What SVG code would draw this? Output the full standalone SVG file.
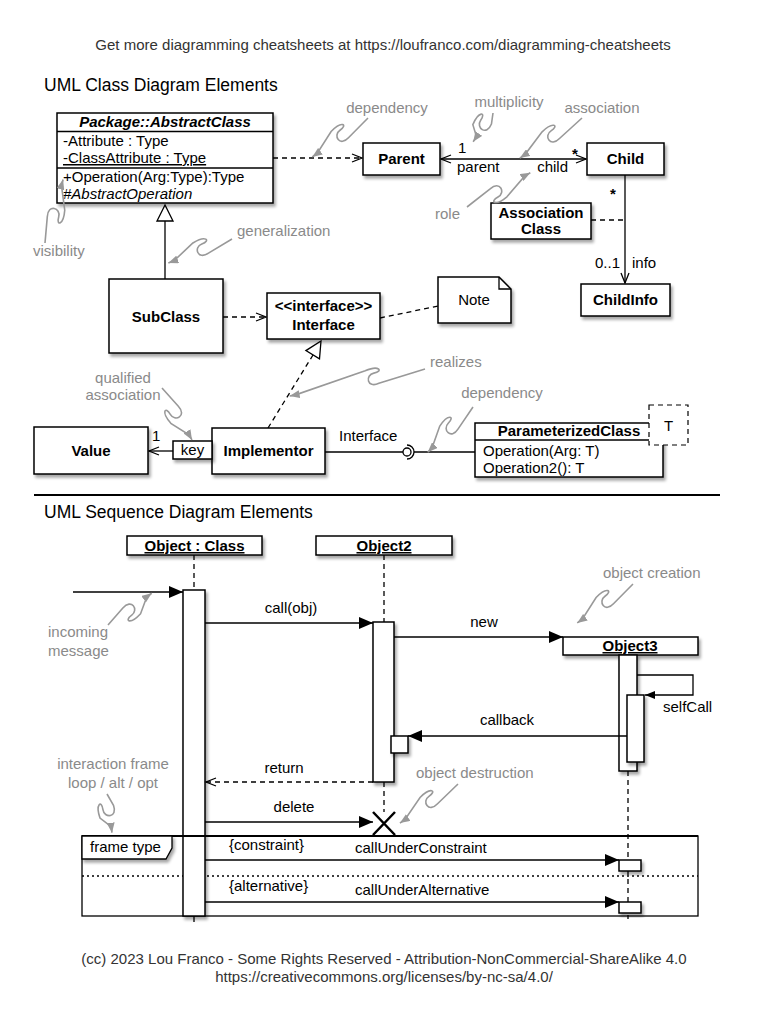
<svg xmlns="http://www.w3.org/2000/svg" width="768" height="1024" viewBox="0 0 768 1024">
<style>
text{font-family:"Liberation Sans",Arial,Helvetica,sans-serif;font-size:15px;fill:#000}
.c{text-anchor:middle}
.e{text-anchor:end}
.b{font-weight:bold}
.g{fill:#8a8a8a}
.h{font-size:17.5px}
.ft{font-size:15px;fill:#333}
.box{fill:#fff;stroke:#000;stroke-width:1.5;filter:url(#sh)}
.ln{fill:none;stroke:#000;stroke-width:1.3}
.dash{stroke-dasharray:5,4}
.ann{fill:none;stroke:#999;stroke-width:1.6;marker-end:url(#ga)}
</style>
<defs>
<filter id="sh" x="-20%" y="-20%" width="150%" height="160%"><feDropShadow dx="2" dy="3" stdDeviation="1.5" flood-color="#000" flood-opacity="0.35"/></filter>
<marker id="oa" viewBox="-1 0 12 10" refX="10" refY="5" markerWidth="12" markerHeight="10" markerUnits="userSpaceOnUse" orient="auto-start-reverse" overflow="visible"><path d="M0,1 L10,5 L0,9" fill="none" stroke="#000" stroke-width="1.3"/></marker>
<marker id="fa" viewBox="0 0 14 12" refX="14" refY="6" markerWidth="14" markerHeight="12" markerUnits="userSpaceOnUse" orient="auto"><path d="M0,0 L14,6 L0,12 Z" fill="#000"/></marker>
<marker id="fs" viewBox="0 0 10 8" refX="10" refY="4" markerWidth="10" markerHeight="8" markerUnits="userSpaceOnUse" orient="auto"><path d="M0,0 L10,4 L0,8 Z" fill="#000"/></marker>
<marker id="ga" viewBox="0 0 10 8" refX="10" refY="4" markerWidth="10" markerHeight="8" markerUnits="userSpaceOnUse" orient="auto"><path d="M0,0 L10,4 L0,8 Z" fill="#999"/></marker>
</defs>
<rect width="768" height="1024" fill="#fff"/>

<text class="c ft" x="383" y="50">Get more diagramming cheatsheets at https://loufranco.com/diagramming-cheatsheets</text>
<text class="h" x="44" y="91">UML Class Diagram Elements</text>

<!-- class diagram connectors -->
<g id="connectors">
<line class="ln dash" x1="273" y1="158" x2="362" y2="158" marker-end="url(#oa)"/>
<line class="ln" x1="441" y1="159" x2="586" y2="159" marker-start="url(#oa)" marker-end="url(#oa)"/>
<line class="ln" x1="625" y1="175" x2="625" y2="283" marker-end="url(#oa)"/>
<line class="ln dash" x1="591" y1="220" x2="625" y2="220"/>
<line class="ln" x1="165" y1="221" x2="165" y2="279"/>
<polygon points="165,205 157,221 173,221" fill="#fff" stroke="#000" stroke-width="1.3"/>
<line class="ln dash" x1="223" y1="317" x2="266" y2="317" marker-end="url(#oa)"/>
<line class="ln dash" x1="380" y1="318" x2="438" y2="306"/>
<line class="ln dash" x1="268" y1="428" x2="313" y2="355"/>
<polygon points="321,341 319.5,358.8 305.9,350.6" fill="#fff" stroke="#000" stroke-width="1.3"/>
<line class="ln" x1="173" y1="451" x2="149" y2="451" marker-end="url(#oa)"/>
<line class="ln" x1="325" y1="452" x2="403" y2="452"/>
<circle cx="407" cy="452" r="4" fill="#fff" stroke="#000" stroke-width="1.3"/>
<path class="ln" d="M407,445 A7,7 0 0 1 407,459"/>
<line class="ln" x1="414" y1="452" x2="475" y2="452"/>
</g>

<g id="abstract-class">
<rect class="box" x="57" y="113" width="216" height="90"/>
<line class="ln" x1="57" y1="131.5" x2="273" y2="131.5" stroke-width="1.5"/>
<line class="ln" x1="57" y1="168" x2="273" y2="168" stroke-width="1.5"/>
<text class="c b" x="165" y="127" font-style="italic">Package::AbstractClass</text>
<text x="63" y="146">-Attribute : Type</text>
<text x="63" y="163" text-decoration="underline">-ClassAttribute : Type</text>
<text x="63" y="182">+Operation(Arg:Type):Type</text>
<text x="63" y="199" font-style="italic">#AbstractOperation</text>
</g>

<g id="parent"><rect class="box" x="363" y="143" width="77" height="32"/><text class="c b" x="401.5" y="164">Parent</text></g>
<g id="child"><rect class="box" x="587" y="143" width="77" height="32"/><text class="c b" x="625.5" y="164">Child</text></g>
<g id="childinfo"><rect class="box" x="581" y="284" width="89" height="32"/><text class="c b" x="625.5" y="305">ChildInfo</text></g>
<g id="association-class"><rect class="box" x="491" y="203" width="100" height="36"/><text class="c b" x="541" y="218">Association</text><text class="c b" x="541" y="234">Class</text></g>

<g id="assoc-labels">
<text x="458" y="153">1</text>
<text x="457" y="172">parent</text>
<text class="e" x="568" y="172">child</text>
<text class="c b" x="575" y="159" font-size="24px">*</text>
<text class="c b" x="613" y="199" font-size="24px">*</text>
<text x="595" y="268">0..1</text>
<text x="632" y="268">info</text>
<text x="339" y="441">Interface</text>
<text x="152" y="441">1</text>
</g>

<g id="subclass"><rect class="box" x="109" y="279" width="114" height="74"/><text class="c b" x="166" y="322">SubClass</text></g>
<g id="interface"><rect class="box" x="267" y="293" width="113" height="46"/><text class="c b" x="323.5" y="311">&lt;&lt;interface&gt;&gt;</text><text class="c b" x="323.5" y="330">Interface</text></g>
<g id="note"><path class="box" d="M438,277 H499 L511,289 V323 H438 Z"/><path class="ln" d="M499,277 V289 H511"/><text class="c" x="474" y="305">Note</text></g>
<g id="implementor"><rect class="box" x="212" y="428" width="113" height="46"/><text class="c b" x="268.5" y="456">Implementor</text></g>
<g id="key"><rect class="box" x="173" y="441" width="39" height="18"/><text class="c" x="192.5" y="455">key</text></g>
<g id="value"><rect class="box" x="34" y="427" width="114" height="47"/><text class="c b" x="91" y="456">Value</text></g>
<g id="parameterized-class">
<rect class="box" x="475" y="423" width="188" height="54"/>
<line class="ln" x1="475" y1="440" x2="663" y2="440" stroke-width="1.5"/>
<text class="c b" x="569" y="436">ParameterizedClass</text>
<text x="483" y="456">Operation(Arg: T)</text>
<text x="483" y="473">Operation2(): T</text>
<rect x="649" y="405" width="39" height="40" fill="#fff" stroke="#000" stroke-width="1.2" stroke-dasharray="5,4"/>
<text class="c" x="668.5" y="431">T</text>
</g>

<g id="annotations-class">
<text class="c g" x="387" y="113">dependency</text>
<path class="ann" transform="translate(368,118) rotate(145.1)" d="M0,0 L27,-5 C40,-8 39,6 30,6 C20,6 23,13 38,10 L62,0 L68,0"/>
<text class="c g" x="509" y="107">multiplicity</text>
<path class="ann" transform="translate(493,113) rotate(124.6)" d="M0,0 L10,-5 C23,-8 22,6 13,6 C3,6 6,13 21,10 L29,0 L35,0"/>
<text class="c g" x="602" y="113">association</text>
<path class="ann" transform="translate(582,118) rotate(147.2)" d="M0,0 L30,-5 C43,-8 42,6 33,6 C23,6 26,13 41,10 L68,0 L74,0"/>
<text class="g" x="435" y="219">role</text>
<path class="ann" transform="translate(467,207) rotate(-28.4)" d="M0,0 L29,-5 C42,-8 41,6 32,6 C22,6 25,13 40,10 L66,0 L72,0"/>
<text class="g" x="33" y="256">visibility</text>
<path class="ann" transform="translate(45,243) rotate(-74.1)" d="M0,0 L26,-5 C39,-8 38,6 29,6 C19,6 22,13 37,10 L60,0 L66,0"/>
<text class="g" x="237" y="236">generalization</text>
<path class="ann" transform="translate(232,239) rotate(159.4)" d="M0,0 L27,-5 C40,-8 39,6 30,6 C20,6 23,13 38,10 L62,0 L68,0"/>
<text class="g" x="430" y="367">realizes</text>
<path class="ann" transform="translate(425,369) rotate(168.7)" d="M0,0 L48,-5 C61,-8 60,6 51,6 C41,6 44,13 59,10 L132,0 L138,0"/>
<text class="c g" x="123" y="383">qualified</text>
<text class="c g" x="123" y="400">association</text>
<path class="ann" transform="translate(162,388) rotate(60)" d="M0,0 L24,-5 C37,-8 36,6 27,6 C17,6 20,13 35,10 L54,0 L60,0"/>
<text class="c g" x="502" y="398">dependency</text>
<path class="ann" transform="translate(473,407) rotate(135)" d="M0,0 L26,-5 C39,-8 38,6 29,6 C19,6 22,13 37,10 L58,0 L64,0"/>
</g>

<line x1="34" y1="495" x2="720" y2="495" stroke="#000" stroke-width="2"/>
<text class="h" x="44" y="518">UML Sequence Diagram Elements</text>

<!-- sequence diagram -->
<g id="frame">
<rect x="82" y="836" width="616" height="80" fill="none" stroke="#000" stroke-width="1.3"/>
<line x1="82" y1="876" x2="698" y2="876" stroke="#000" stroke-width="1.3" stroke-dasharray="2,3"/>
</g>

<g id="lifelines">
<line class="ln dash" x1="194" y1="555" x2="194" y2="590"/>
<line class="ln" x1="194" y1="916" x2="194" y2="922"/>
<line class="ln dash" x1="384" y1="555" x2="384" y2="622"/>
<line class="ln dash" x1="384" y1="782" x2="384" y2="812"/>
<line class="ln dash" x1="628" y1="771" x2="628" y2="919" stroke-width="1.6"/>
</g>

<g id="object-class"><rect class="box" x="127" y="536" width="135" height="19"/><text class="c b" x="194.5" y="551" text-decoration="underline">Object : Class</text></g>
<g id="object2"><rect class="box" x="316" y="536" width="136" height="19"/><text class="c b" x="384" y="551" text-decoration="underline">Object2</text></g>
<g id="activation-object-class"><rect class="box" x="183" y="590" width="22" height="326"/></g>
<line x1="82" y1="836" x2="698" y2="836" stroke="#000" stroke-width="2"/>
<g id="frame-type"><path d="M82,836 H172 V848 L166,859 H82 Z" fill="#fff" stroke="#000" stroke-width="1.3" filter="url(#sh)"/><text x="90" y="852">frame type</text></g>
<g id="activation-object2"><rect class="box" x="373" y="622" width="21" height="160"/></g>
<g id="object3"><rect class="box" x="563" y="637" width="135" height="18"/><text class="c b" x="630" y="651" text-decoration="underline">Object3</text></g>
<g id="activation-object3"><rect class="box" x="619" y="655" width="18" height="116"/></g>
<g id="activation-selfcall"><rect class="box" x="627" y="695" width="17" height="67"/></g>
<g id="activation-callback"><rect class="box" x="391" y="736" width="17" height="17"/></g>
<g id="activation-constraint"><rect class="box" x="619" y="860" width="22" height="11"/></g>
<g id="activation-alternative"><rect class="box" x="619" y="902" width="22" height="11"/></g>

<g id="messages">
<line class="ln" x1="73" y1="592" x2="183" y2="592" marker-end="url(#fa)"/>
<line class="ln" x1="205" y1="623" x2="373" y2="623" marker-end="url(#fa)"/>
<text class="c" x="291" y="613">call(obj)</text>
<line class="ln" x1="394" y1="637" x2="563" y2="637" marker-end="url(#fa)"/>
<text class="c" x="484" y="627">new</text>
<path class="ln" d="M637,675 H693 V695 H645" marker-end="url(#fs)"/>
<text x="663" y="712">selfCall</text>
<line class="ln" x1="627" y1="736" x2="408" y2="736" marker-end="url(#fa)"/>
<text class="c" x="507" y="725">callback</text>
<line class="ln dash" x1="373" y1="782" x2="206" y2="782" marker-end="url(#oa)"/>
<text class="c" x="284" y="773">return</text>
<line class="ln" x1="205" y1="822" x2="373" y2="822" marker-end="url(#fa)"/>
<text class="c" x="294" y="812">delete</text>
<path d="M373,812 L395,835 M395,812 L373,835" stroke="#000" stroke-width="2.5" fill="none"/>
<text x="229" y="850">{constraint}</text>
<line class="ln" x1="205" y1="860" x2="619" y2="860" marker-end="url(#fa)"/>
<text x="355" y="853">callUnderConstraint</text>
<text x="229" y="891">{alternative}</text>
<line class="ln" x1="205" y1="902" x2="619" y2="902" marker-end="url(#fa)"/>
<text x="355" y="895">callUnderAlternative</text>
</g>

<g id="annotations-sequence">
<text class="g" x="48" y="637">incoming</text>
<text class="g" x="48" y="656">message</text>
<path class="ann" transform="translate(108,625) rotate(-36)" d="M0,0 L22,-5 C35,-8 34,6 25,6 C15,6 18,13 33,10 L48,0 L54,0"/>
<text class="g" x="603" y="578">object creation</text>
<path class="ann" transform="translate(633,584) rotate(145.1)" d="M0,0 L27,-5 C40,-8 39,6 30,6 C20,6 23,13 38,10 L62,0 L68,0"/>
<text class="g" x="416" y="778">object destruction</text>
<path class="ann" transform="translate(458,784) rotate(146.1)" d="M0,0 L28,-5 C41,-8 40,6 31,6 C21,6 24,13 39,10 L64,0 L70,0"/>
<text class="c g" x="113" y="769">interaction frame</text>
<text class="c g" x="113" y="788">loop / alt / opt</text>
<path class="ann" transform="translate(107,794) rotate(82.7)" d="M0,0 L12,-5 C25,-8 24,6 15,6 C5,6 8,13 23,10 L33,0 L39,0"/>
</g>

<text class="c ft" x="384" y="964">(cc) 2023 Lou Franco - Some Rights Reserved - Attribution-NonCommercial-ShareAlike 4.0</text>
<text class="c ft" x="384" y="982">https://creativecommons.org/licenses/by-nc-sa/4.0/</text>
</svg>
